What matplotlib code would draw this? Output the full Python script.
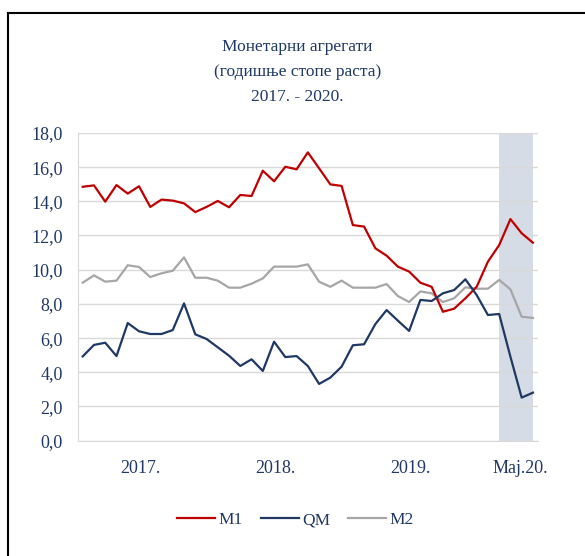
import numpy as np
import matplotlib.pyplot as plt
from matplotlib.lines import Line2D

# Monthly data, Jan 2017 - May 2020 (annual growth rates, %)
m1 = [14.85, 14.93, 13.98, 14.95, 14.45, 14.88, 13.67, 14.10, 14.04, 13.88, 13.37, 13.67,
      14.02, 13.65, 14.37, 14.31, 15.79, 15.17, 16.02, 15.87, 16.86, 15.93, 14.99, 14.90,
      12.61, 12.52, 11.25, 10.82, 10.18, 9.89, 9.24, 9.00, 7.54, 7.72, 8.33, 9.00,
      10.47, 11.44, 12.96, 12.13, 11.58]
qm = [4.93, 5.60, 5.73, 4.95, 6.88, 6.40, 6.24, 6.24, 6.47, 8.03, 6.22, 5.95,
      5.46, 4.97, 4.37, 4.76, 4.08, 5.79, 4.89, 4.95, 4.37, 3.32, 3.69, 4.33,
      5.58, 5.64, 6.82, 7.64, 7.02, 6.42, 8.23, 8.17, 8.62, 8.81, 9.44, 8.52,
      7.35, 7.41, 4.91, 2.52, 2.81]
m2 = [9.24, 9.67, 9.30, 9.36, 10.26, 10.16, 9.57, 9.79, 9.94, 10.72, 9.53, 9.53,
      9.36, 8.95, 8.95, 9.18, 9.49, 10.18, 10.18, 10.18, 10.31, 9.30, 9.00, 9.36,
      8.95, 8.95, 8.95, 9.16, 8.46, 8.11, 8.73, 8.62, 8.11, 8.33, 8.97, 8.89,
      8.89, 9.40, 8.85, 7.25, 7.18]

x_labels = ['2017.', '2018.', '2019.', 'Maj.20.']
x_label_pos = [5.1, 17.1, 29.1, 38.9]
shade_start, shade_end = 37, 40

txt_color = '#1F3864'
plt.rcParams['font.family'] = ['Liberation Serif', 'DejaVu Serif']

fig = plt.figure(figsize=(5.85, 5.56), dpi=100)
ax = fig.add_axes([78 / 585, 1 - 440.7 / 556, 460 / 585, 307.8 / 556])

x = np.arange(len(m1))
ax.axvspan(shade_start, shade_end, color='#D6DCE5', lw=0, zorder=0)
ax.plot(x, m1, color='#C00000', lw=1.6, label='M1', zorder=3)
ax.plot(x, qm, color='#1F3864', lw=1.6, label='QM', zorder=3)
ax.plot(x, m2, color='#A6A6A6', lw=1.6, label='M2', zorder=2)

ax.set_xlim(-0.42, 40.45)
ax.set_ylim(0, 18)
ax.set_yticks(np.arange(0, 18.1, 2))
ax.set_yticklabels([f'{v:.1f}'.replace('.', ',') for v in np.arange(0, 18.1, 2)])
ax.set_xticks(x_label_pos)
ax.set_xticklabels(x_labels)
ax.tick_params(axis='both', length=0, labelsize=13, colors=txt_color)
ax.tick_params(axis='y', pad=11)
ax.tick_params(axis='x', pad=14)
ax.grid(axis='y', color='#D9D9D9', lw=1)
ax.set_axisbelow(True)
for s in ['top', 'right']:
    ax.spines[s].set_visible(False)
for s in ['left', 'bottom']:
    ax.spines[s].set_color('#D9D9D9')

fig.text(0.508, 1 - 72 / 556, 'Монетарни агрегати\n(годишње стопе раста)\n2017. - 2020.',
         ha='center', va='center', fontsize=12.5, color=txt_color, linespacing=1.75)

fig.legend(loc='center', bbox_to_anchor=(0.505, 1 - 520 / 556), ncol=3, frameon=False,
           fontsize=12.5, labelcolor=txt_color, handlelength=2.2, handletextpad=0.2,
           columnspacing=1.0)

# frame around the chart (only top/left edges visible in the crop)
fig.add_artist(Line2D([8 / 585, 8 / 585], [0, 1 - 13 / 556], color='black', lw=1.5,
                      transform=fig.transFigure))
fig.add_artist(Line2D([8 / 585, 1], [1 - 13 / 556, 1 - 13 / 556], color='black', lw=1.5,
                      transform=fig.transFigure))

fig.savefig('out.png', dpi=100)
